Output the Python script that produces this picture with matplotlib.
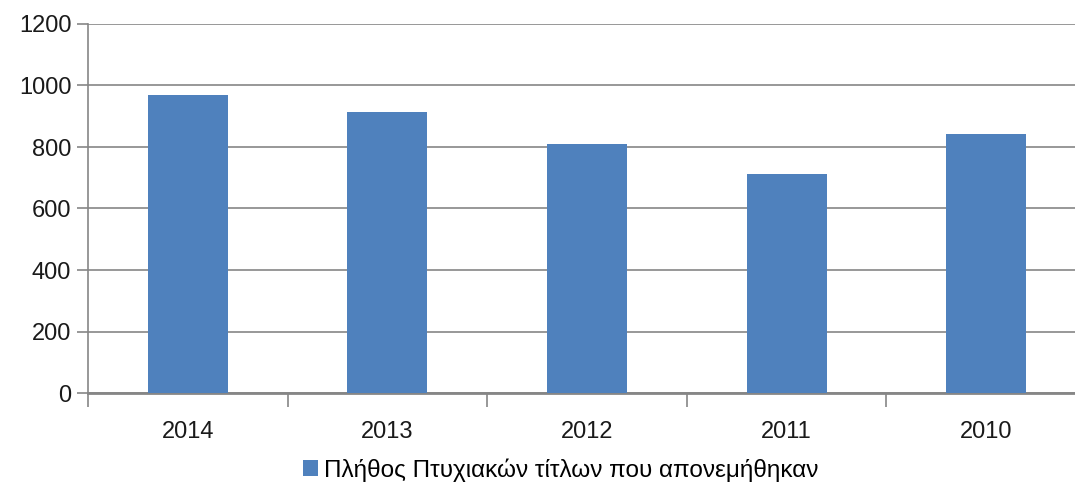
import matplotlib
matplotlib.use("Agg")
import matplotlib.pyplot as plt
import numpy as np

categories = ["2014", "2013", "2012", "2011", "2010"]
values = [969, 914, 810, 712, 842]
series_name = "Πλήθος Πτυχιακών τίτλων που απονεμήθηκαν"
yticks = [0, 200, 400, 600, 800, 1000, 1200]

plt.rcParams['font.family'] = ['Liberation Sans', 'DejaVu Sans']
grey = "#868686"
bar_color = "#4F81BD"

fig = plt.figure(figsize=(10.75, 4.94), dpi=100)
ax = fig.add_axes([88/1075, 1-393/494, (1086-88)/1075, (393-24)/494])

x = np.arange(len(categories))
bars = ax.bar(x, values, width=0.4, color=bar_color, zorder=3, label=series_name)

ax.set_xlim(-0.5, len(categories) - 0.5)
ax.set_ylim(0, 1200)
ax.set_yticks(yticks)
ax.set_yticklabels([str(v) for v in yticks], fontsize=17, color="#1a1a1a")
ax.yaxis.grid(True, color=grey, linewidth=1.2, zorder=0)
ax.tick_params(axis='y', length=8, color=grey, width=1.2, pad=4)

ax.set_xticks(x)
ax.set_xticklabels(categories, fontsize=17, color="#1a1a1a")
ax.tick_params(axis='x', which='major', length=0, pad=20)
ax.set_xticks(np.arange(-0.5, len(categories), 1.0), minor=True)
ax.tick_params(axis='x', which='minor', length=10, color=grey, width=1.2)

for s in ['top', 'right']:
    ax.spines[s].set_visible(False)
ax.spines['left'].set_color(grey)
ax.spines['left'].set_linewidth(1.2)
ax.spines['bottom'].set_color(grey)
ax.spines['bottom'].set_linewidth(2)

fig.legend(handles=[bars], labels=[series_name], loc='center', bbox_to_anchor=(561/1075, 1-470/494),
           frameon=False, fontsize=17.5, handlelength=0.6, handleheight=0.6, handletextpad=0.25)

fig.savefig("out.png", dpi=100)
